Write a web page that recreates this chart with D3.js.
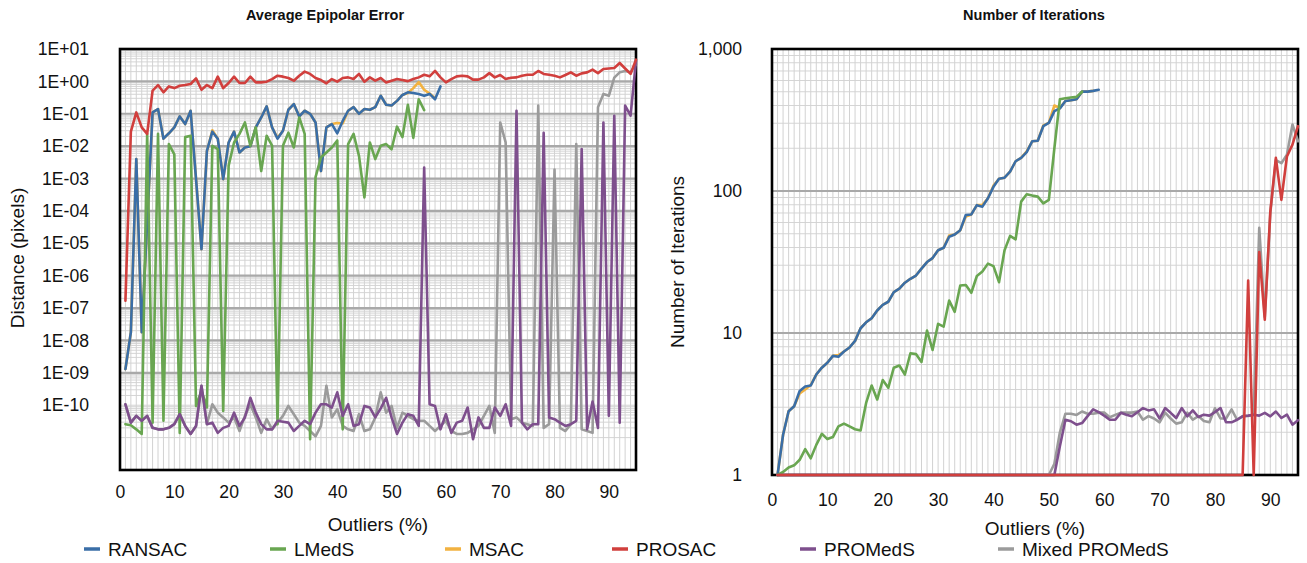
<!DOCTYPE html>
<html>
<head>
<meta charset="utf-8">
<script src="https://cdn.jsdelivr.net/npm/d3@7"></script>
<style>
  body { margin: 0; background: #fff; }
  svg { display: block; font-family: "Liberation Sans", Arial, Helvetica, sans-serif; }
</style>
</head>
<body>
<svg id="chart" width="1307" height="563"></svg>
<script>
// outlier percentage for each measured point
const OUTLIERS = [
  1, 2, 3, 4, 5, 6, 7, 8, 9, 10, 11, 12, 13, 14, 15, 16, 17, 18, 19, 20,
  21, 22, 23, 24, 25, 26, 27, 28, 29, 30, 31, 32, 33, 34, 35, 36, 37, 38, 39, 40,
  41, 42, 43, 44, 45, 46, 47, 48, 49, 50, 51, 52, 53, 54, 55, 56, 57, 58, 59, 60,
  61, 62, 63, 64, 65, 66, 67, 68, 69, 70, 71, 72, 73, 74, 75, 76, 77, 78, 79, 80,
  81, 82, 83, 84, 85, 86, 87, 88, 89, 90, 91, 92, 93, 94, 95
]
const X_TICKS = [0, 10, 20, 30, 40, 50, 60, 70, 80, 90]

// average epipolar error (pixels)
const ERR_TICKS = [1e1, 1e0, 1e-1, 1e-2, 1e-3, 1e-4, 1e-5, 1e-6, 1e-7, 1e-8, 1e-9, 1e-10]
const ERR_TICK_LABELS = ["1E+01", "1E+00", "1E-01", "1E-02", "1E-03", "1E-04", "1E-05",
  "1E-06", "1E-07", "1E-08", "1E-09", "1E-10"]

const RANSAC_ERR = [
  1.3e-9, 1.8e-8, 4e-3, 1.8e-8, 4.4e-5, 0.11, 0.14, 0.017, 0.025, 0.038,
  0.083, 0.048, 0.124, 9.6e-4, 6.6e-6, 7.2e-3, 0.028, 0.017, 9.6e-4, 0.013,
  0.028, 6.4e-3, 9.1e-3, 0.0099, 0.038, 0.077, 0.17, 0.038, 0.017, 0.03,
  0.133, 0.2, 0.083, 0.124, 0.1, 0.054, 1.7e-3, 0.038, 0.048, 0.025,
  0.06, 0.124, 0.16, 0.1, 0.14, 0.133, 0.16, 0.36, 0.19, 0.18,
  0.25, 0.38, 0.46, 0.44, 0.41, 0.36, 0.41, 0.28, 0.7
]
const LMEDS_ERR = [
  2.6e-11, 2.4e-11, 1.8e-11, 1.3e-11, 0.024, 2.9e-11, 0.024, 3.3e-11, 0.0116, 5.6e-3,
  1.4e-11, 0.019, 0.021, 9.5e-11, 2.8e-10, 8.5e-11, 0.0103, 8.1e-3, 6.7e-11, 2.5e-3,
  0.013, 0.024, 0.054, 0.0103, 0.038, 1.7e-3, 0.021, 0.0103, 2.6e-11, 0.0103,
  0.026, 9.1e-3, 0.077, 0.024, 8.9e-12, 1.1e-3, 4.5e-3, 6.4e-3, 9.1e-3, 0.015,
  1.8e-11, 0.0116, 0.024, 5e-3, 2.6e-4, 0.013, 4e-3, 0.0103, 0.0116, 8e-3,
  0.04, 0.019, 0.19, 0.018, 0.28, 0.13
]
const MSAC_ERR = [
  1.3e-9, 1.8e-8, 4e-3, 1.8e-8, 4e-5, 0.11, 0.14, 0.017, 0.025, 0.038,
  0.083, 0.048, 0.124, 9.6e-4, 6.6e-6, 6.8e-3, 0.031, 0.017, 9.6e-4, 0.013,
  0.028, 6.4e-3, 9.1e-3, 0.0099, 0.038, 0.077, 0.17, 0.038, 0.018, 0.03,
  0.133, 0.2, 0.083, 0.124, 0.1, 0.054, 1.7e-3, 0.038, 0.048, 0.052,
  0.05, 0.124, 0.16, 0.1, 0.14, 0.133, 0.16, 0.36, 0.19, 0.18,
  0.25, 0.38, 0.44, 0.62, 0.95, 0.55, 0.42, 0.3
]
const PROSAC_ERR = [
  1.7e-7, 0.028, 0.11, 0.038, 0.024, 0.52, 0.77, 0.46, 0.7, 0.62,
  0.73, 0.77, 0.83, 1.24, 0.55, 0.77, 0.62, 1.4, 0.62, 0.89,
  1.4, 0.89, 0.89, 1.4, 0.93, 0.93, 0.98, 1.18, 1.5, 1.4,
  1.27, 1.05, 1.5, 2.0, 1.7, 1.27, 1.1, 0.87, 1.18, 0.98,
  1.27, 1.33, 1.18, 1.7, 0.98, 1.33, 1.05, 1.27, 0.93, 1.05,
  1.18, 1.1, 1.02, 1.18, 1.33, 1.6, 1.43, 2.1, 1.33, 0.93,
  1.18, 1.43, 1.5, 1.43, 1.13, 1.13, 1.33, 1.8, 1.33, 1.57,
  1.18, 1.3, 1.33, 1.5, 1.6, 1.6, 2.1, 1.7, 1.6, 1.5,
  1.33, 1.57, 1.9, 1.5, 1.77, 1.9, 2.3, 1.8, 2.4, 2.5,
  2.6, 3.7, 2.5, 1.7, 4.7
]
const PROMEDS_ERR = [
  1.07e-10, 2.9e-11, 4.7e-11, 3.3e-11, 4.7e-11, 2.0e-11, 1.8e-11, 1.8e-11, 2.0e-11, 2.6e-11,
  5.3e-11, 2.3e-11, 1.3e-11, 2.3e-11, 4e-10, 2.6e-11, 2.9e-11, 1.4e-11, 2.0e-11, 2.3e-11,
  5.9e-11, 2.3e-11, 4.2e-11, 1.7e-10, 5.9e-11, 2.6e-11, 1.8e-11, 1.8e-11, 3.3e-11, 3.1e-11,
  2.9e-11, 1.6e-11, 2.3e-11, 3.3e-11, 2.6e-11, 5.9e-11, 1.07e-10, 1.07e-10, 8.5e-11, 2.5e-10,
  4.7e-11, 1.07e-10, 2.3e-11, 2.6e-11, 9.5e-11, 8.5e-11, 4.2e-11, 8e-11, 1.7e-10, 4.2e-11,
  1.3e-11, 2.9e-11, 5.3e-11, 4.7e-11, 2.3e-11, 2.2e-3, 1.07e-10, 9.5e-11, 1.8e-11, 5.3e-11,
  1.4e-11, 2.9e-11, 3.3e-11, 8.5e-11, 8.9e-12, 4.2e-11, 2.0e-11, 2.0e-11, 8.5e-11, 4.7e-11,
  1.07e-10, 2.3e-11, 0.124, 2.9e-11, 1.8e-11, 2.6e-11, 2.6e-11, 0.026, 4.2e-11, 3.7e-11,
  2.9e-11, 2.3e-11, 2.6e-11, 3.3e-11, 8.1e-3, 1.8e-11, 1.3e-10, 2.0e-11, 0.054, 4.7e-11,
  0.087, 2.9e-11, 0.18, 0.087, 4.4
]
const MIXED_ERR = [
  1.07e-10, 2.9e-11, 4.7e-11, 3.3e-11, 4.7e-11, 2.0e-11, 1.8e-11, 1.8e-11, 2.0e-11, 2.6e-11,
  5.3e-11, 2.3e-11, 1.3e-11, 2.3e-11, 4e-10, 2.6e-11, 1.07e-10, 5.9e-11, 4.2e-11, 2.9e-11,
  4.2e-11, 1.6e-11, 4.7e-11, 1.07e-10, 4.2e-11, 1.4e-11, 3.7e-11, 1.8e-11, 2.9e-11, 4.7e-11,
  9.5e-11, 5.3e-11, 2.9e-11, 2.3e-11, 1.6e-11, 1.1e-11, 2.3e-11, 4e-10, 4.2e-11, 7.5e-11,
  2.3e-11, 1.8e-11, 1.6e-11, 5.3e-11, 1.6e-11, 1.8e-11, 4.2e-11, 2.5e-10, 5.9e-11, 9.5e-11,
  2.0e-11, 5.9e-11, 4.7e-11, 3.7e-11, 3.3e-11, 3.3e-11, 2.3e-11, 1.6e-11, 2.3e-11, 3.3e-11,
  1.6e-11, 1.3e-11, 1.3e-11, 1.4e-11, 1.8e-11, 2.3e-11, 4.7e-11, 9.5e-11, 1.4e-11, 0.054,
  0.013, 3.7e-11, 4.2e-11, 2.9e-11, 2.6e-11, 2.3e-11, 0.18, 2.0e-11, 2.6e-11, 1.9e-3,
  2.0e-11, 1.6e-11, 2.6e-11, 0.0116, 1.8e-11, 1.6e-11, 1.4e-11, 0.16, 0.41, 0.36,
  1.3, 1.9, 2.1, 1.9, 3.4
]

// number of iterations
const IT_TICKS = [1, 10, 100, 1000]
const IT_TICK_LABELS = ["1", "10", "100", "1,000"]

const RANSAC_IT = [
  1, 1.92, 2.81, 3.05, 3.9, 4.2, 4.27, 5.1, 5.7, 6.17,
  6.9, 6.8, 7.4, 7.9, 8.8, 10.8, 11.9, 12.7, 14.4, 15.8,
  16.6, 19.4, 20.5, 22.6, 24.1, 25.4, 28.4, 31.6, 33.7, 38.3,
  39.8, 47.6, 49.4, 53, 67.7, 68.4, 79.5, 77.6, 88.9, 107,
  122, 124, 137, 162, 171, 188, 224, 226, 286, 302,
  365, 382, 430, 435, 443, 501, 501, 507, 516
]
const LMEDS_IT = [
  1, 1.05, 1.13, 1.17, 1.28, 1.52, 1.31, 1.63, 1.95, 1.79,
  1.85, 2.2, 2.3, 2.2, 2.1, 2.06, 3.22, 4.27, 3.4, 4.66,
  4.11, 5.7, 5.9, 5.1, 7.2, 7.1, 6.25, 10.4, 7.6, 11.6,
  11.1, 16.9, 14.1, 21.6, 21.8, 19.2, 25.2, 27.1, 30.8, 29.6,
  22.8, 38.3, 48.3, 45.7, 84.2, 94.8, 92.8, 91.3, 81.8, 86.5,
  200, 443, 450, 455, 460, 500
]
const MSAC_IT = [
  1, 1.92, 2.81, 3.05, 3.75, 4.0, 4.3, 5.1, 5.7, 6.17,
  6.9, 7.0, 7.4, 7.9, 8.8, 10.8, 11.9, 12.7, 14.4, 15.8,
  16.6, 19.4, 20.5, 22.6, 24.1, 25.4, 28.4, 31.6, 33.7, 38.3,
  39.8, 48.5, 49.4, 53, 66, 68.4, 79.5, 80, 88.9, 109,
  122, 124, 137, 162, 171, 190, 224, 226, 290, 302,
  400, 385, 430, 435, 443, 501, 501, 507
]
const PROSAC_IT = [
  1, 1, 1, 1, 1, 1, 1, 1, 1, 1,
  1, 1, 1, 1, 1, 1, 1, 1, 1, 1,
  1, 1, 1, 1, 1, 1, 1, 1, 1, 1,
  1, 1, 1, 1, 1, 1, 1, 1, 1, 1,
  1, 1, 1, 1, 1, 1, 1, 1, 1, 1,
  1, 1, 1, 1, 1, 1, 1, 1, 1, 1,
  1, 1, 1, 1, 1, 1, 1, 1, 1, 1,
  1, 1, 1, 1, 1, 1, 1, 1, 1, 1,
  1, 1, 1, 1, 1, 23.4, 1, 37.2, 12.4, 71.5,
  171, 86.5, 175, 212, 286
]
const PROMEDS_IT = [
  1, 1, 1, 1, 1, 1, 1, 1, 1, 1,
  1, 1, 1, 1, 1, 1, 1, 1, 1, 1,
  1, 1, 1, 1, 1, 1, 1, 1, 1, 1,
  1, 1, 1, 1, 1, 1, 1, 1, 1, 1,
  1, 1, 1, 1, 1, 1, 1, 1, 1, 1,
  1, 1.6, 2.45, 2.39, 2.26, 2.32, 2.6, 2.9, 2.77, 2.62,
  2.45, 2.45, 2.74, 2.66, 2.59, 2.77, 2.96, 2.85, 2.9, 2.5,
  2.96, 2.74, 2.52, 2.96, 2.59, 2.85, 2.56, 2.66, 2.62, 2.77,
  2.96, 2.35, 2.35, 2.45, 2.59, 2.62, 2.66, 2.62, 2.74, 2.59,
  2.8, 2.52, 2.66, 2.26, 2.43
]
const MIXED_IT = [
  1, 1, 1, 1, 1, 1, 1, 1, 1, 1,
  1, 1, 1, 1, 1, 1, 1, 1, 1, 1,
  1, 1, 1, 1, 1, 1, 1, 1, 1, 1,
  1, 1, 1, 1, 1, 1, 1, 1, 1, 1,
  1, 1, 1, 1, 1, 1, 1, 1, 1, 1,
  1.2, 2.0, 2.7, 2.7, 2.65, 2.8, 2.7, 2.7, 2.75, 2.75,
  2.55, 2.65, 2.75, 2.75, 2.75, 2.8, 2.45, 2.6, 2.5, 2.35,
  2.75, 2.5, 2.3, 2.35, 2.75, 2.45, 2.6, 2.4, 2.35, 2.95,
  2.5, 2.5, 2.9, 2.45, 2.6, 2.6, 2.65, 55, 13, 70,
  165, 157, 180, 294, 224
]

const COLORS = {
  RANSAC: "#3a6ea7",
  LMedS: "#69a651",
  MSAC: "#f2b241",
  PROSAC: "#d13f3d",
  PROMedS: "#7e4f8d",
  "Mixed PROMedS": "#9b9b9b"
}
const LEGEND_ORDER = ["RANSAC", "LMedS", "MSAC", "PROSAC", "PROMedS", "Mixed PROMedS"]
// drawing order (bottom to top)
const DRAW_ORDER = ["Mixed PROMedS", "MSAC", "RANSAC", "LMedS", "PROMedS", "PROSAC"]

const svg = d3.select("#chart")

function drawPanel(p) {
  const x = d3.scaleLinear().domain([0, 95]).range([p.left, p.right])
  const y = d3.scaleLog().domain(p.yDomain).range([p.bottom, p.top])

  const g = svg.append("g")

  // minor horizontal grid (plus light decade lines where no major line is drawn)
  const minor = []
  for (let e = p.minorFrom; e < p.minorTo; e++) {
    for (let k = 1; k <= 9; k++) {
      const v = k * Math.pow(10, e)
      if (k > 1 || !p.major.includes(v)) minor.push(v)
    }
  }
  g.selectAll(".hminor").data(minor).enter().append("line")
    .attr("x1", p.left).attr("x2", p.right)
    .attr("y1", d => y(d)).attr("y2", d => y(d))
    .attr("stroke", "#d5d5d5").attr("stroke-width", 1)

  // vertical grid, every percent
  g.selectAll(".vgrid").data(d3.range(1, 95)).enter().append("line")
    .attr("x1", d => x(d)).attr("x2", d => x(d))
    .attr("y1", p.top).attr("y2", p.bottom)
    .attr("stroke", "#d2d2d2").attr("stroke-width", 1)

  // major horizontal grid
  g.selectAll(".hmajor").data(p.major).enter().append("line")
    .attr("x1", p.left).attr("x2", p.right)
    .attr("y1", d => y(d)).attr("y2", d => y(d))
    .attr("stroke", "#a9a9a9").attr("stroke-width", 2.2)

  // frame
  g.append("rect")
    .attr("x", p.left).attr("y", p.top)
    .attr("width", p.right - p.left).attr("height", p.bottom - p.top)
    .attr("fill", "none").attr("stroke", "#000").attr("stroke-width", 2.6)

  // series
  const line = d3.line()
    .x(d => x(d.x))
    .y(d => y(d.v))
  DRAW_ORDER.forEach(name => {
    const vals = p.series[name]
    const pts = vals.map((v, i) => ({ x: OUTLIERS[i], v: v }))
    g.append("path")
      .datum(pts)
      .attr("d", line)
      .attr("fill", "none")
      .attr("stroke", COLORS[name])
      .attr("stroke-width", 2.6)
      .attr("stroke-linejoin", "round")
      .attr("stroke-linecap", "round")
  })

  // axes
  const yAxis = d3.axisLeft(y)
    .tickValues(p.yTicks)
    .tickFormat((d, i) => p.yLabels[i])
    .tickSize(0)
    .tickPadding(p.yPad)
  const ya = g.append("g").attr("transform", `translate(${p.left},0)`).call(yAxis)
  ya.select(".domain").remove()
  ya.selectAll("text").attr("font-size", 17.6).attr("fill", "#111")
    .attr("font-family", "Liberation Sans, Arial, sans-serif")

  const xAxis = d3.axisBottom(x)
    .tickValues(X_TICKS)
    .tickFormat(d3.format("d"))
    .tickSize(0)
    .tickPadding(p.xPad)
  const xa = g.append("g").attr("transform", `translate(0,${p.bottom})`).call(xAxis)
  xa.select(".domain").remove()
  xa.selectAll("text").attr("font-size", 17.6).attr("fill", "#111")
    .attr("font-family", "Liberation Sans, Arial, sans-serif")

  // titles
  g.append("text")
    .attr("x", p.titleX).attr("y", 20)
    .attr("text-anchor", "middle")
    .attr("font-size", 14.5).attr("font-weight", "bold").attr("fill", "#111")
    .text(p.title)

  g.append("text")
    .attr("x", (p.left + p.right) / 2).attr("y", p.xTitleY)
    .attr("text-anchor", "middle")
    .attr("font-size", 19).attr("fill", "#111")
    .text("Outliers (%)")

  g.append("text")
    .attr("transform", `translate(${p.yTitleX},${p.yTitleY}) rotate(-90)`)
    .attr("text-anchor", "middle")
    .attr("font-size", 19).attr("fill", "#111")
    .text(p.yTitle)
}

drawPanel({
  left: 120, right: 636, top: 49, bottom: 470,
  yDomain: [1e-12, 1e1],
  minorFrom: -11, minorTo: 1,
  major: [1e0, 1e-1, 1e-2, 1e-3, 1e-4, 1e-5, 1e-6, 1e-7, 1e-8, 1e-9],
  yTicks: ERR_TICKS, yLabels: ERR_TICK_LABELS,
  yPad: 31, xPad: 16,
  title: "Average Epipolar Error", titleX: 325,
  yTitle: "Distance (pixels)", yTitleX: 24, yTitleY: 258,
  xTitleY: 531,
  series: {
    RANSAC: RANSAC_ERR, LMedS: LMEDS_ERR, MSAC: MSAC_ERR,
    PROSAC: PROSAC_ERR, PROMedS: PROMEDS_ERR, "Mixed PROMedS": MIXED_ERR
  }
})

drawPanel({
  left: 772, right: 1298, top: 49, bottom: 475,
  yDomain: [1, 1000],
  minorFrom: 0, minorTo: 3,
  major: [10, 100],
  yTicks: IT_TICKS, yLabels: IT_TICK_LABELS,
  yPad: 30, xPad: 19,
  title: "Number of Iterations", titleX: 1034,
  yTitle: "Number of Iterations", yTitleX: 684, yTitleY: 262,
  xTitleY: 535,
  series: {
    RANSAC: RANSAC_IT, LMedS: LMEDS_IT, MSAC: MSAC_IT,
    PROSAC: PROSAC_IT, PROMedS: PROMEDS_IT, "Mixed PROMedS": MIXED_IT
  }
})

// legend
const LEGEND_X = [84, 270, 445, 612, 800, 998]
const legend = svg.append("g")
LEGEND_ORDER.forEach((name, i) => {
  const lx = LEGEND_X[i]
  legend.append("line")
    .attr("x1", lx).attr("x2", lx + 16)
    .attr("y1", 549).attr("y2", 549)
    .attr("stroke", COLORS[name]).attr("stroke-width", 3.5)
  legend.append("text")
    .attr("x", lx + 24).attr("y", 555.5)
    .attr("font-size", 19).attr("fill", "#111")
    .text(name)
})
</script>
</body>
</html>
